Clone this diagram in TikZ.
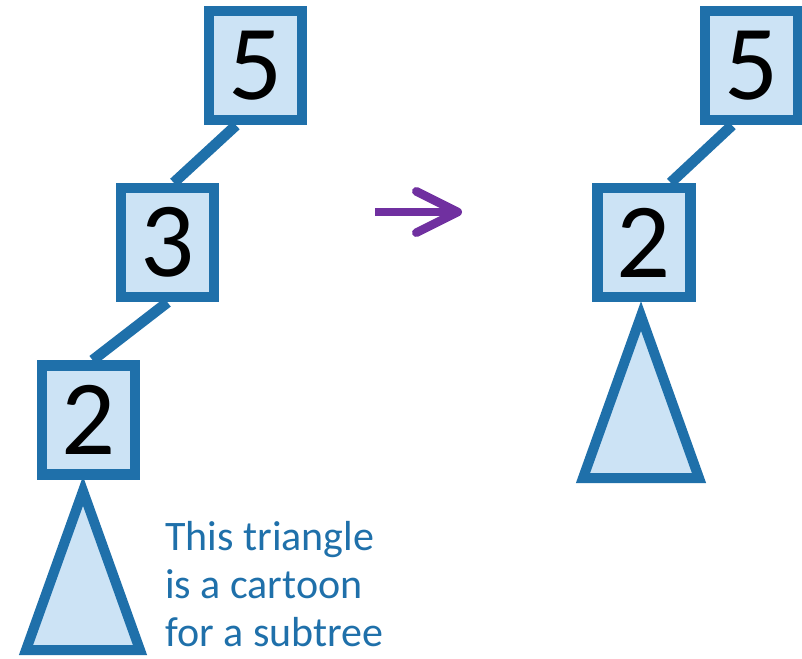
\documentclass[tikz,border=0pt]{standalone}
\usepackage{fontspec}
\setmainfont{Carlito}
\usetikzlibrary{arrows.meta}
\definecolor{treeblue}{RGB}{31,112,170}
\definecolor{treefill}{RGB}{204,227,245}
\definecolor{turnpurple}{RGB}{112,48,160}
\tikzset{
  key/.style={draw=treeblue, fill=treefill, line width=8pt, minimum width=69.75pt,
    minimum height=81.75pt, inner sep=0pt, font=\fontsize{80}{80}\selectfont},
  link/.style={treeblue, line width=8pt},
  subtree/.style={draw=treeblue, fill=treefill, line width=7.5pt},
  turn/.style={turnpurple, line width=6.5pt, -{Straight Barb[length=31pt, width=31pt, round]}},
  note/.style={text=treeblue, align=left, inner sep=0pt, font=\fontsize{31.5}{36}\selectfont}
}
\begin{document}
\begin{tikzpicture}[x=0.75pt,y=-0.75pt]
  \useasboundingbox (0,0) rectangle (802,658);
  \node[key] (a5) at (255.5,65.5) {5};
  \node[key] (a3) at (167.5,242.5) {3};
  \node[key] (a2) at (88.5,420) {2};
  \draw[link] (a5.252) -- (a3.84);
  \draw[link] (a3.270) -- (a2.86);
  \draw[subtree] (83,491) -- (140,650) -- (26,650) -- cycle;
  \node[note, anchor=base west] (cap) at (165,646) {This triangle\\is a cartoon\\for a subtree};
  \coordinate (from) at (375,212);
  \coordinate (to) at (462,212);
  \draw[turn] (from) -- (to);
  \node[key] (b5) at (751.5,65.5) {5};
  \node[key] (b2) at (644,242.5) {2};
  \draw[link] (b5.252) -- (b2.66);
  \draw[subtree] (641,316) -- (699,478) -- (583,478) -- cycle;
\end{tikzpicture}
\end{document}
